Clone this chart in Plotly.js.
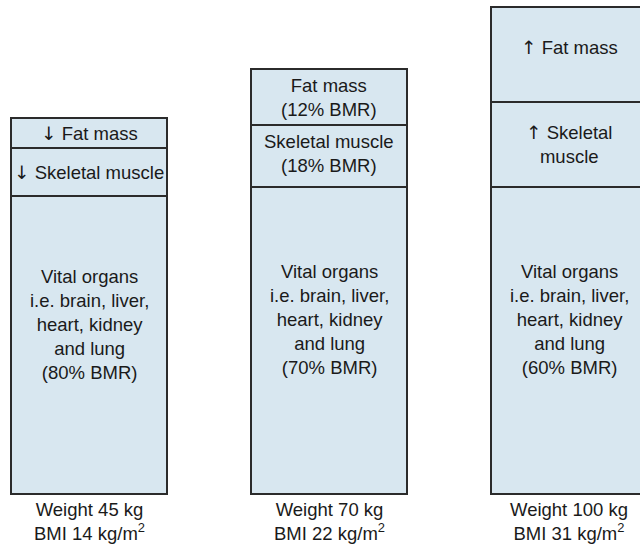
<!DOCTYPE html>
<html>
<head>
<meta charset="utf-8">
<script src="https://cdn.plot.ly/plotly-3.0.1.min.js"></script>
<style>
  html, body { margin: 0; padding: 0; background: #ffffff; }
  #chart { width: 640px; height: 545px; }
</style>
</head>
<body>
<div id="chart"></div>
<script>
// Categories (one column per body size)
const categories = ['Weight 45 kg', 'Weight 70 kg', 'Weight 100 kg'];
const weightLabels = ['Weight 45 kg', 'Weight 70 kg', 'Weight 100 kg'];
const bmiLabels = ['BMI 14 kg/m<sup>2</sup>', 'BMI 22 kg/m<sup>2</sup>', 'BMI 31 kg/m<sup>2</sup>'];

// Relative segment heights (arbitrary units)
const vitalOrgans = [298, 307, 307];
const skeletalMuscle = [48, 62, 85];
const fatMass = [30, 56, 95];

// Segment texts
const DOWN = '<span style="font-family:DejaVu Sans">\u2193</span>';
const UP = '<span style="font-family:DejaVu Sans">\u2191</span>';
const vitalLabels = [
  'Vital organs<br>i.e. brain, liver,<br>heart, kidney<br>and lung<br>(80% BMR)',
  'Vital organs<br>i.e. brain, liver,<br>heart, kidney<br>and lung<br>(70% BMR)',
  'Vital organs<br>i.e. brain, liver,<br>heart, kidney<br>and lung<br>(60% BMR)'
];
const muscleLabels = [DOWN + ' Skeletal muscle', 'Skeletal muscle<br>(18% BMR)', UP + ' Skeletal<br>muscle'];
const fatLabels = [DOWN + ' Fat mass', 'Fat mass<br>(12% BMR)', UP + ' Fat mass'];

const FILL = '#d8e7f0';
const EDGE = '#2b2b2b';
const FONT = 'Liberation Sans, Arial, Helvetica, sans-serif';
const TXT = '#1a1a1a';
const FS = 18.5;

function barTrace(name, values) {
  return {
    type: 'bar',
    name: name,
    x: categories,
    y: values,
    marker: { color: FILL, line: { color: EDGE, width: 1.5 } },
    hoverinfo: 'skip',
    showlegend: false
  };
}

const data = [
  barTrace('Vital organs', vitalOrgans),
  barTrace('Skeletal muscle', skeletalMuscle),
  barTrace('Fat mass', fatMass)
];

const annotations = [];
categories.forEach((c, i) => {
  const v = vitalOrgans[i], m = skeletalMuscle[i], f = fatMass[i];
  const base = { x: c, xref: 'x', yref: 'y', showarrow: false,
                 font: { family: FONT, size: FS, color: TXT }, align: 'center',
                 xanchor: 'center', yanchor: 'middle' };
  annotations.push(Object.assign({}, base, { y: v * 0.57, text: vitalLabels[i] }));
  annotations.push(Object.assign({}, base, { y: v + m / 2, text: muscleLabels[i], yshift: i === 1 ? 3 : 0 }));
  annotations.push(Object.assign({}, base, { y: v + m + f / 2, text: fatLabels[i], yshift: i === 2 ? 7 : 0 }));
  annotations.push(Object.assign({}, base, { y: 0, yshift: -27, text: weightLabels[i] + '<br>' + bmiLabels[i] }));
});

const layout = {
  width: 640,
  height: 545,
  margin: { l: 0, r: 0, t: 0, b: 0, pad: 0 },
  paper_bgcolor: '#ffffff',
  plot_bgcolor: '#ffffff',
  barmode: 'stack',
  bargap: 0.35,
  showlegend: false,
  xaxis: {
    type: 'category',
    range: [-89 / 240, (640 - 89) / 240],
    showgrid: false, zeroline: false, showline: false,
    showticklabels: false, ticks: '', fixedrange: true
  },
  yaxis: {
    range: [-51, 494],
    showgrid: false, zeroline: false, showline: false,
    showticklabels: false, ticks: '', fixedrange: true
  },
  annotations: annotations
};

Plotly.newPlot('chart', data, layout, { displayModeBar: false, staticPlot: true });
</script>
</body>
</html>
